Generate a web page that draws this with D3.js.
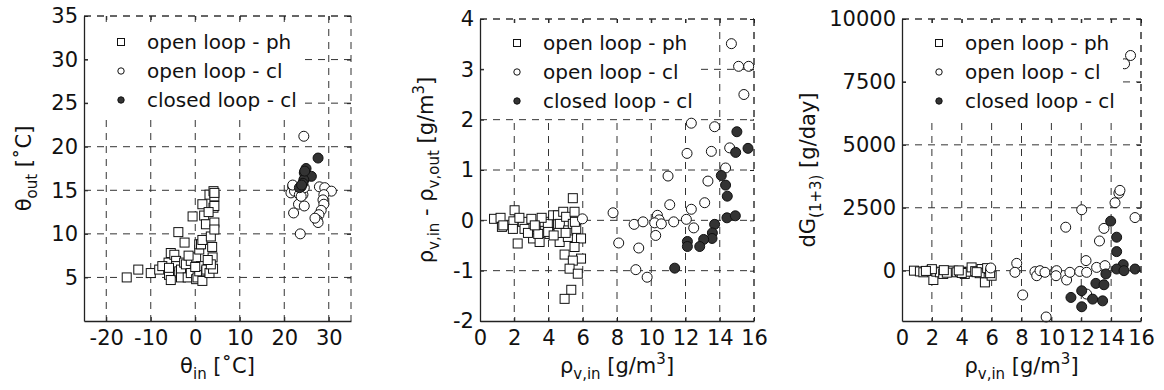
<!DOCTYPE html>
<html>
<head>
<meta charset="utf-8">
<script src="https://cdn.jsdelivr.net/npm/d3@7"></script>
<style>
  body { margin: 0; background: #fff; }
  text { font-family: "DejaVu Sans", sans-serif; fill: #111; }
</style>
</head>
<body>
<svg id="chart" width="1164" height="390"></svg>
<script>
const seriesNames = ["open loop - ph", "open loop - cl", "closed loop - cl"];

// panel 1: theta_in vs theta_out
const phTemp = [[-15.4,5.0],[-12.8,5.9],[-10.0,5.5],[-8.1,5.9],[-6.0,6.7],[-5.9,5.3],[-5.5,4.7],[-5.5,7.8],[-4.7,7.6],[-4.3,6.9],
  [-4.3,6.3],[-3.8,10.2],[-3.6,5.7],[-3.2,5.9],[-3.2,5.0],[-2.5,6.7],[-2.4,9.0],[-2.1,6.5],[-1.7,5.0],[-1.0,5.5],
  [-1.0,6.9],[-0.6,12.0],[0.2,7.3],[0.2,4.8],[0.5,5.0],[0.9,5.7],[0.9,8.2],[0.9,8.8],[1.3,6.3],[1.3,8.8],
  [1.6,9.3],[1.6,13.4],[1.6,4.6],[2.0,12.1],[2.4,11.1],[2.4,5.7],[2.5,5.9],[3.2,5.5],[3.2,14.5],[3.5,9.7],
  [3.9,7.3],[4.1,13.0],[4.1,14.9],[4.3,14.3],[4.3,11.3],[4.3,13.2],[4.0,6.0],[3.5,6.5],[-7.4,6.3],[-5.9,6.1],
  [2.8,7.0],[3.0,12.5],[4.3,10.5],[3.8,8.5],[0.0,6.2],[-1.5,7.5],[4.3,14.7]];
const olTemp = [[24.4,21.2],[23.6,10.0],[21.9,15.4],[21.5,14.7],[22.3,14.9],[23.4,14.5],[24.2,14.5],[24.5,15.3],[23.2,13.4],[24.5,13.2],
  [22.1,12.4],[23.8,14.3],[21.9,15.6],[27.9,15.4],[29.1,15.3],[30.6,14.9],[28.9,14.5],[28.7,13.9],[28.9,13.4],[28.3,12.7],
  [27.8,12.2],[27.4,11.6],[27.6,11.3],[26.9,11.8]];
const clTemp = [[27.6,18.7],[24.9,17.5],[24.5,17.0],[24.7,16.4],[26.1,16.6],[24.4,16.2],[24.2,15.8],[23.8,15.4],[23.4,15.3],[24.6,17.2],[23.9,15.6]];

// panel 2: rho_v,in vs rho_v,in - rho_v,out
const phRho = [[0.82,0.03],[1.2,0.05],[1.28,-0.13],[1.36,-0.1],[2.02,0.2],[1.95,-0.02],[1.92,-0.17],[2.2,-0.46],[2.5,-0.03],[2.6,-0.17],
  [3.0,0.03],[3.1,-0.36],[3.48,-0.43],[3.28,-0.13],[3.4,-0.27],[3.77,-0.03],[3.96,-0.07],[4.06,-0.27],[3.98,-0.23],[4.27,0.1],
  [4.55,-0.07],[4.55,0.1],[4.65,-0.43],[4.66,-0.07],[4.86,0.17],[5.03,0.07],[5.13,-0.33],[5.15,-0.2],[5.42,-0.07],[5.52,0.17],
  [5.62,-0.17],[5.54,-0.03],[5.9,-0.36],[5.52,-0.53],[4.94,-0.68],[5.9,-0.76],[5.42,-0.8],[5.23,-0.96],[5.71,-1.06],[5.33,-1.38],
  [4.94,-1.56],[5.42,0.44],[2.8,-0.25],[3.6,0.05],[4.3,-0.3],[2.3,0.05],[5.0,-0.25],[3.2,-0.1]];
const olRho = [[14.68,3.51],[15.1,3.06],[15.69,3.06],[15.41,2.5],[12.34,1.93],[13.7,1.86],[12.09,1.33],[13.51,1.37],[14.58,1.44],[14.34,1.04],
  [10.98,0.88],[13.31,0.78],[11.08,0.31],[13.12,0.35],[12.34,0.22],[7.77,0.15],[9.0,-0.08],[9.52,-0.03],[10.36,0.1],[10.46,0.01],
  [10.2,-0.05],[10.59,-0.07],[11.31,-0.03],[12.05,0.02],[12.48,-0.15],[10.26,-0.3],[8.1,-0.45],[9.27,-0.55],[9.1,-0.98],[9.76,-1.13],
  [5.98,0.03]];
const clRho = [[15.0,1.76],[14.93,1.35],[15.65,1.43],[14.09,0.89],[14.34,0.7],[14.44,0.48],[14.42,0.05],[14.91,0.09],[13.7,-0.08],[13.57,-0.25],
  [13.55,-0.36],[13.06,-0.38],[12.11,-0.42],[12.11,-0.52],[12.83,-0.52],[11.37,-0.95]];

// panel 3: rho_v,in vs dG(1+3)
const phDG = [[0.8,0],[1.2,-30],[1.43,-65],[1.92,0],[2.1,-370],[2.3,-40],[2.54,-65],[2.76,-130],[3.1,-30],[3.43,0],
  [3.66,-65],[3.88,-40],[4.2,-130],[4.55,-40],[4.66,130],[4.9,-20],[5.33,65],[5.2,-100],[5.55,-465],[5.7,100],
  [6.0,-200],[2.0,60],[3.0,-80],[4.0,-90],[5.0,-60],[1.6,-10],[2.8,20],[3.8,10],[5.9,-100]];
const olDG = [[12.03,2420],[10.96,1727],[13.52,1680],[13.22,1180],[14.52,3080],[14.59,3190],[14.26,2700],[15.6,2110],[7.68,290],[7.56,-65],
  [8.08,-965],[8.9,-40],[9.02,-200],[9.24,0],[9.57,-65],[10.24,-65],[10.35,0],[10.31,-200],[11.02,-370],[11.24,-65],
  [11.9,-30],[12.32,400],[12.36,-65],[13.03,130],[13.59,200],[12.36,-930],[9.65,-1840],[5.94,107],[14.9,8220],[15.3,8550]];
const clDG = [[13.97,1967],[14.37,1330],[14.37,757],[14.81,240],[14.37,65],[14.86,0],[15.6,65],[13.65,-130],[12.98,-505],[13.52,-560],
  [12.03,-800],[11.31,-1064],[12.76,-1130],[13.43,-1200],[12.03,-1435]];

const xTicks1 = [-20, -10, 0, 10, 20, 30];
const yTicks1 = [5, 10, 15, 20, 25, 30, 35];
const xTicksRho = [0, 2, 4, 6, 8, 10, 12, 14, 16];
const yTicks2 = [-2, -1, 0, 1, 2, 3, 4];
const yTicks3 = [0, 2500, 5000, 7500, 10000];

const svg = d3.select("#chart");

const panels = [
  { left: 84, right: 351, top: 16, bottom: 321, xDomain: [-25, 35], yDomain: [0, 35],
    xTicks: xTicks1, yTicks: yTicks1, data: [phTemp, olTemp, clTemp],
    legend: { x: 88, y: 22, w: 215, h: 95 }, ylabX: 31,
    xlab: [["θ"], ["in", "sub"], [" [˚C]"]],
    ylab: [["θ"], ["out", "sub"], [" [˚C]"]] },
  { left: 480, right: 754, top: 19, bottom: 321, xDomain: [0, 16], yDomain: [-2, 4],
    xTicks: xTicksRho, yTicks: yTicks2, data: [phRho, olRho, clRho],
    legend: { x: 484, y: 23, w: 216, h: 94 }, ylabX: 433,
    xlab: [["ρ"], ["v,in", "sub"], [" [g/m"], ["3", "sup"], ["]"]],
    ylab: [["ρ"], ["v,in", "sub"], [" - ρ"], ["v,out", "sub"], [" [g/m"], ["3", "sup"], ["]"]] },
  { left: 902, right: 1141, top: 19, bottom: 321, xDomain: [0, 16], yDomain: [-2000, 10000],
    xTicks: xTicksRho, yTicks: yTicks3, data: [phDG, olDG, clDG],
    legend: { x: 906, y: 23, w: 217, h: 94 }, ylabX: 815,
    xlab: [["ρ"], ["v,in", "sub"], [" [g/m"], ["3", "sup"], ["]"]],
    ylab: [["dG"], ["(1+3)", "sub"], [" [g/day]"]] }
];

function addLabel(sel, parts) {
  let shift = 0;
  parts.forEach(([txt, kind]) => {
    const want = kind === "sub" ? 6 : kind === "sup" ? -9 : 0;
    sel.append("tspan")
      .attr("dy", want - shift)
      .attr("font-size", kind ? 15 : 21)
      .text(txt);
    shift = want;
  });
}

function drawMarker(g, kind, px, py, s) {
  if (kind === 0) {
    g.append("rect").attr("x", px - s).attr("y", py - s)
      .attr("width", 2 * s).attr("height", 2 * s)
      .attr("fill", "#fff").attr("stroke", "#111").attr("stroke-width", 1);
  } else {
    g.append("circle").attr("cx", px).attr("cy", py).attr("r", s)
      .attr("fill", kind === 2 ? "#333" : "#fff")
      .attr("stroke", "#111").attr("stroke-width", 1);
  }
}

panels.forEach(p => {
  const x = d3.scaleLinear().domain(p.xDomain).range([p.left, p.right]);
  const y = d3.scaleLinear().domain(p.yDomain).range([p.bottom, p.top]);
  const g = svg.append("g");

  // dashed grid + dashed top/right frame
  const grid = g.append("g").attr("stroke", "#333").attr("stroke-width", 1).attr("stroke-dasharray", "7,6");
  grid.selectAll(".gx").data(p.xTicks.filter(d => x(d) > p.left + 1)).join("line")
    .attr("x1", d => x(d)).attr("x2", d => x(d)).attr("y1", p.top).attr("y2", p.bottom);
  grid.selectAll(".gy").data(p.yTicks.filter(d => y(d) < p.bottom - 1)).join("line")
    .attr("x1", p.left).attr("x2", p.right).attr("y1", d => y(d)).attr("y2", d => y(d));
  grid.append("line").attr("x1", p.left).attr("x2", p.right).attr("y1", p.top).attr("y2", p.top);
  grid.append("line").attr("x1", p.right).attr("x2", p.right).attr("y1", p.top).attr("y2", p.bottom);

  // markers
  p.data.forEach((series, k) => {
    const mg = g.append("g");
    series.forEach(d => drawMarker(mg, k, x(d[0]), y(d[1]), k === 0 ? 4.5 : 5));
  });

  // legend
  const lg = g.append("g");
  lg.append("rect").attr("x", p.legend.x).attr("y", p.legend.y)
    .attr("width", p.legend.w).attr("height", p.legend.h).attr("fill", "#fff");
  seriesNames.forEach((name, k) => {
    const cy = p.legend.y + 20 + k * 29;
    drawMarker(lg, k, p.legend.x + 33, cy, k === 0 ? 3.5 : 3.2);
    lg.append("text").attr("x", p.legend.x + 59).attr("y", cy + 7)
      .attr("font-size", 20).text(name);
  });

  // axes
  const fmt = d => String(d);
  const bottom = g.append("g").attr("transform", `translate(0,${p.bottom})`)
    .call(d3.axisBottom(x).tickValues(p.xTicks).tickFormat(fmt).tickSize(-4).tickSizeOuter(0).tickPadding(9));
  const left = g.append("g").attr("transform", `translate(${p.left},0)`)
    .call(d3.axisLeft(y).tickValues(p.yTicks).tickFormat(fmt).tickSize(-4).tickSizeOuter(0).tickPadding(6));
  g.append("g").attr("transform", `translate(0,${p.top})`)
    .call(d3.axisTop(x).tickValues(p.xTicks).tickSize(-4).tickFormat("").tickSizeOuter(0))
    .select(".domain").remove();
  g.append("g").attr("transform", `translate(${p.right},0)`)
    .call(d3.axisRight(y).tickValues(p.yTicks).tickSize(-4).tickFormat("").tickSizeOuter(0))
    .select(".domain").remove();
  [bottom, left].forEach(a => {
    a.selectAll("text").attr("font-size", 21).attr("font-family", "DejaVu Sans, sans-serif").attr("fill", "#111");
    a.select(".domain").attr("stroke", "#222").attr("stroke-width", 1.3);
  });
  g.selectAll(".tick line").attr("stroke", "#222");

  // axis titles
  const xt = g.append("text").attr("x", (p.left + p.right) / 2).attr("y", 373)
    .attr("text-anchor", "middle");
  addLabel(xt, p.xlab);
  const yt = g.append("text")
    .attr("transform", `translate(${p.ylabX},${(p.top + p.bottom) / 2}) rotate(-90)`)
    .attr("text-anchor", "middle");
  addLabel(yt, p.ylab);
});
</script>
</body>
</html>
